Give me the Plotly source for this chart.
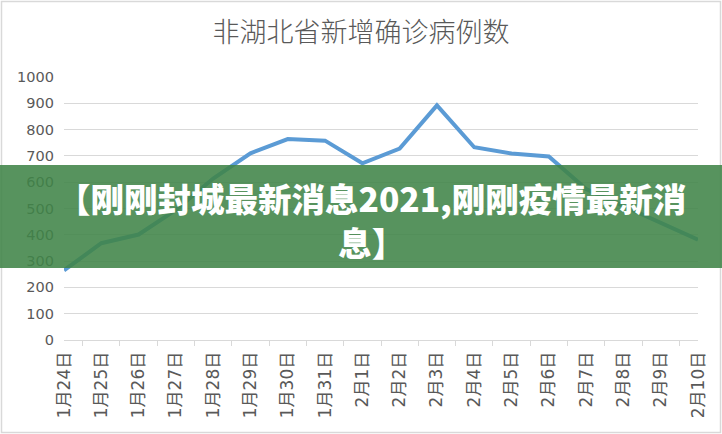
import plotly.graph_objects as go

title_text = "非湖北省新增确诊病例数"
dates = ["1月24日", "1月25日", "1月26日", "1月27日", "1月28日", "1月29日", "1月30日",
         "1月31日", "2月1日", "2月2日", "2月3日", "2月4日", "2月5日", "2月6日",
         "2月7日", "2月8日", "2月9日", "2月10日"]
cases = [265, 368, 401, 495, 614, 710, 764, 758, 672, 728, 892, 733, 709, 698,
         574, 510, 444, 381]
y_ticks = [0, 100, 200, 300, 400, 500, 600, 700, 800, 900, 1000]
banner_text = "【刚刚封城最新消息2021,刚刚疫情最新消<br>息】"

W, H = 722, 434
ML, MR, MT, MB = 64, 24, 77, 94
PW, PH = W - ML - MR, H - MT - MB


def px_x(p):
    return (p - ML) / PW


def px_y(p):
    return (H - MB - p) / PH


fig = go.Figure()
fig.add_trace(go.Scatter(
    x=dates, y=cases, mode="lines",
    line=dict(color="#5b9bd5", width=4),
    hoverinfo="skip",
))

grey = "#595959"
fig.update_layout(
    width=W, height=H,
    margin=dict(l=ML, r=MR, t=MT, b=MB),
    paper_bgcolor="white", plot_bgcolor="white",
    showlegend=False,
    font=dict(family="DejaVu Sans, Noto Sans CJK SC", color=grey),
    title=dict(text=title_text, x=0.5, xanchor="center", y=1 - 33 / H, yanchor="middle",
               font=dict(family="Noto Sans CJK SC", size=27, color=grey, weight=300)),
    xaxis=dict(
        type="category", tickangle=-90, ticks="outside", tickson="boundaries",
        ticklen=5, tickcolor="#d9d9d9", showgrid=False, showline=True,
        linecolor="#d9d9d9", linewidth=1, zeroline=False,
        ticklabelstandoff=4,
        tickfont=dict(size=17, color=grey), fixedrange=True,
    ),
    yaxis=dict(
        range=[0, 1000], tickvals=y_ticks, showgrid=True, gridcolor="#d9d9d9",
        gridwidth=1, zeroline=False, showline=False, ticks="",
        ticklabelstandoff=9, tickfont=dict(size=14.5, color=grey), fixedrange=True,
    ),
)

# chart area border
fig.add_shape(type="rect", xref="paper", yref="paper",
              x0=px_x(1.5), x1=px_x(W - 1.5), y0=px_y(H - 1.5), y1=px_y(1.5),
              line=dict(color="#d9d9d9", width=1.5), fillcolor="rgba(0,0,0,0)",
              layer="below")

# green banner overlay
fig.add_shape(type="rect", xref="paper", yref="paper",
              x0=px_x(0), x1=px_x(W), y0=px_y(268), y1=px_y(165),
              line=dict(width=0), fillcolor="rgba(64,132,72,0.88)", layer="above")

banner_font = dict(family="Noto Sans CJK SC", size=33.5, color="white", weight=900)
fig.add_annotation(text=banner_text, xref="paper", yref="paper",
                   x=px_x(371), y=px_y(219), xanchor="center", yanchor="middle",
                   align="center", showarrow=False, font=banner_font)

fig.write_html("out.html")
